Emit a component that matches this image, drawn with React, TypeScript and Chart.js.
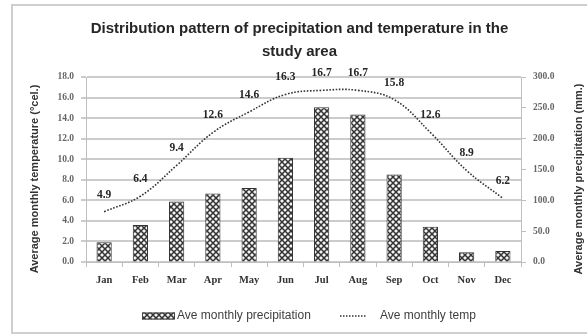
import React, { useEffect, useRef } from "react";
import { Chart, registerables } from "chart.js";

Chart.register(...registerables);

const months = ["Jan", "Feb", "Mar", "Apr", "May", "Jun", "Jul", "Aug", "Sep", "Oct", "Nov", "Dec"];
const precipitation = [32, 60, 98, 111, 120, 169, 251, 239, 142, 57, 16, 18];
const temperature = [4.9, 6.4, 9.4, 12.6, 14.6, 16.3, 16.7, 16.7, 15.8, 12.6, 8.9, 6.2];
const titleLines = ["Distribution pattern of precipitation and temperature in the", "study area"];
const leftTitle = "Average monthly temperature (°cel.)";
const rightTitle = "Average monthly precipitation (mm.)";
const barLabel = "Ave monthly precipitation";
const lineLabel = "Ave monthly temp";

const SERIF = "'Liberation Serif', 'DejaVu Serif', serif";
const SANS = "'Liberation Sans', Arial, sans-serif";

// Diamond lattice fill with light dots, used for the precipitation bars.
function makePattern(): CanvasPattern | string {
  const tile = document.createElement("canvas");
  tile.width = 6;
  tile.height = 6;
  const c = tile.getContext("2d");
  if (!c) return "#888";
  c.fillStyle = "#9a9a9a";
  c.fillRect(0, 0, 6, 6);
  c.strokeStyle = "#2e2e2e";
  c.lineWidth = 1.15;
  c.beginPath();
  c.moveTo(-1, -1);
  c.lineTo(7, 7);
  c.moveTo(7, -1);
  c.lineTo(-1, 7);
  c.stroke();
  c.fillStyle = "#f4f4f4";
  [[3, 0], [0, 3], [6, 3], [3, 6]].forEach(([x, y]) => {
    c.beginPath();
    c.arc(x, y, 1.3, 0, Math.PI * 2);
    c.fill();
  });
  const p = c.createPattern(tile, "repeat");
  return p || "#888";
}

export default function App() {
  const ref = useRef<HTMLCanvasElement | null>(null);

  useEffect(() => {
    if (!ref.current) return;
    const pattern = makePattern();

    const frame = {
      id: "frame",
      beforeDraw(chart: any) {
        const ctx = chart.ctx;
        ctx.save();
        ctx.fillStyle = "#ffffff";
        ctx.fillRect(0, 0, chart.width, chart.height);
        ctx.strokeStyle = "#cfcfcf";
        ctx.lineWidth = 2;
        ctx.strokeRect(12, 5, chart.width + 10, chart.height - 6);
        ctx.restore();
      },
    };

    const extras = {
      id: "extras",
      afterDatasetsDraw(chart: any) {
        const ctx = chart.ctx;
        // value labels above the temperature line
        const meta = chart.getDatasetMeta(1);
        ctx.save();
        ctx.font = `bold 11.5px ${SERIF}`;
        ctx.fillStyle = "#262626";
        ctx.textAlign = "center";
        ctx.textBaseline = "middle";
        meta.data.forEach((pt: any, i: number) => {
          ctx.fillText(temperature[i].toFixed(1), pt.x, pt.y - 17);
        });
        ctx.restore();
      },
      afterDraw(chart: any) {
        const ctx = chart.ctx;
        const midY = 179;
        ctx.save();
        ctx.font = `bold 11px ${SANS}`;
        ctx.fillStyle = "#333333";
        ctx.textAlign = "center";
        ctx.textBaseline = "middle";
        ctx.translate(35, midY);
        ctx.rotate(-Math.PI / 2);
        ctx.fillText(leftTitle, 0, 0);
        ctx.restore();

        ctx.save();
        ctx.font = `bold 11px ${SANS}`;
        ctx.fillStyle = "#333333";
        ctx.textAlign = "center";
        ctx.textBaseline = "middle";
        ctx.translate(579, midY);
        ctx.rotate(-Math.PI / 2);
        ctx.fillText(rightTitle, 0, 0);
        ctx.restore();

        // legend
        const ly = 316;
        ctx.save();
        ctx.fillStyle = pattern as any;
        ctx.fillRect(142, ly - 3.5, 33, 7);
        ctx.strokeStyle = "#404040";
        ctx.lineWidth = 1;
        ctx.strokeRect(142.5, ly - 3, 32, 6);
        ctx.font = `12px ${SANS}`;
        ctx.fillStyle = "#404040";
        ctx.textBaseline = "middle";
        ctx.textAlign = "left";
        ctx.fillText(barLabel, 177, ly);
        ctx.strokeStyle = "#333333";
        ctx.lineWidth = 1.5;
        ctx.setLineDash([1.5, 1.5]);
        ctx.beginPath();
        ctx.moveTo(340, ly);
        ctx.lineTo(366, ly);
        ctx.stroke();
        ctx.setLineDash([]);
        ctx.fillText(lineLabel, 380, ly);
        ctx.restore();
      },
    };

    const chart = new Chart(ref.current, {
      data: {
        labels: months,
        datasets: [
          {
            type: "bar",
            label: barLabel,
            data: precipitation,
            yAxisID: "y1",
            backgroundColor: pattern as any,
            borderColor: "#333333",
            borderWidth: 1,
            barPercentage: 0.42,
            categoryPercentage: 1,
            order: 2,
          },
          {
            type: "line",
            label: lineLabel,
            data: temperature,
            yAxisID: "y",
            borderColor: "#333333",
            borderWidth: 1.6,
            borderDash: [1.6, 1.6],
            pointRadius: 0,
            tension: 0.4,
            fill: false,
            order: 1,
          },
        ],
      },
      options: {
        responsive: false,
        animation: false,
        devicePixelRatio: 1,
        layout: { padding: { left: 12, right: 0, top: 0, bottom: 42 } },
        plugins: {
          legend: { display: false },
          tooltip: { enabled: false },
          title: {
            display: true,
            text: titleLines,
            color: "#262626",
            font: { family: SANS, size: 15, weight: "bold", lineHeight: 1.5 },
            padding: { top: 18, bottom: 14 },
          },
        },
        scales: {
          x: {
            grid: { drawOnChartArea: false, drawTicks: true, tickLength: 5, color: "#bfbfbf", offset: true },
            border: { color: "#bfbfbf", width: 1 },
            ticks: { color: "#333333", font: { family: SERIF, size: 10.5, weight: "bold" }, padding: 7, maxRotation: 0 },
            afterFit: (s: any) => {
              s.height = 30;
            },
          },
          y: {
            position: "left",
            min: 0,
            max: 18,
            grid: { color: "#cccccc", lineWidth: 2, tickLength: 5 },
            border: { color: "#bfbfbf", width: 1 },
            ticks: {
              stepSize: 2,
              color: "#666666",
              font: { family: SERIF, size: 9.5, weight: "bold" },
              padding: 7,
              callback: (v: any) => Number(v).toFixed(1),
            },
            afterFit: (s: any) => {
              s.width = 74;
            },
          },
          y1: {
            position: "right",
            min: 0,
            max: 300,
            grid: { drawOnChartArea: false, color: "#bfbfbf", tickLength: 5 },
            border: { color: "#bfbfbf", width: 1 },
            ticks: {
              stepSize: 50,
              color: "#666666",
              font: { family: SERIF, size: 9.5, weight: "bold" },
              padding: 7,
              callback: (v: any) => Number(v).toFixed(1),
            },
            afterFit: (s: any) => {
              s.width = 66;
            },
          },
        },
      },
      plugins: [frame, extras],
    } as any);

    return () => chart.destroy();
  }, []);

  return (
    <div style={{ position: "fixed", left: 0, top: 0, width: 587, height: 334, background: "#fff" }}>
      <canvas ref={ref} width={587} height={334} style={{ display: "block" }} />
    </div>
  );
}
